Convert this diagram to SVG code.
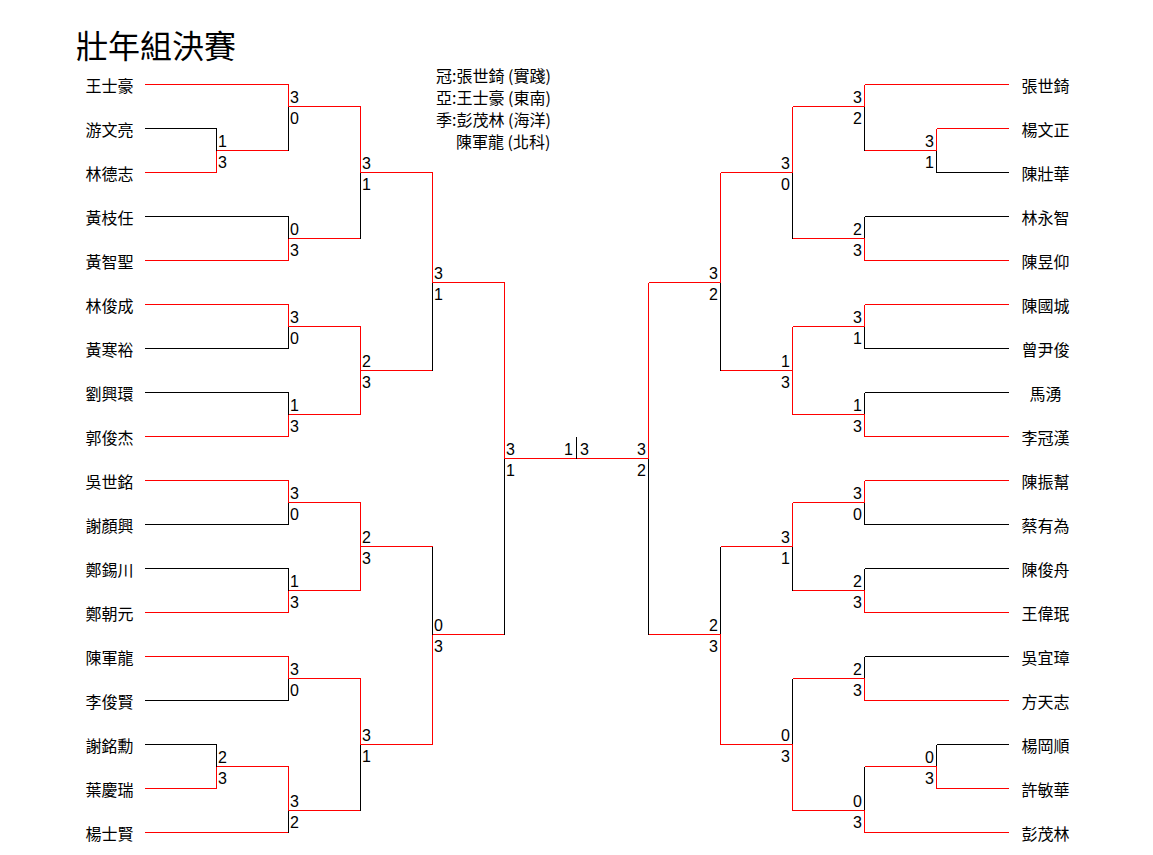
<svg xmlns="http://www.w3.org/2000/svg" width="1153" height="855" viewBox="0 0 1153 855">
<style>
.r{stroke:#f00;stroke-width:1;fill:none}
.k{stroke:#000;stroke-width:1;fill:none}
.nm{font-family:"Noto Sans CJK TC","Noto Sans CJK SC",sans-serif;font-size:16px;fill:#000;text-anchor:middle}
.lg{font-family:"Noto Sans CJK TC","Noto Sans CJK SC",sans-serif;font-size:16px;fill:#000}
.ti{font-family:"Noto Sans CJK TC","Noto Sans CJK SC",sans-serif;font-size:32px;fill:#000}
.s{font-family:"Liberation Sans",Arial,sans-serif;font-size:16px;fill:#000}
.e{text-anchor:end}
</style>
<rect width="1153" height="855" fill="#fff"/>
<g id="title"><text class="ti" x="76" y="58">壯年組決賽</text></g>
<g id="legend">
<text class="lg" x="436" y="82">冠:張世錡 (實踐)</text>
<text class="lg" x="436" y="104">亞:王士豪 (東南)</text>
<text class="lg" x="436" y="126">季:彭茂林 (海洋)</text>
<text class="lg" x="456" y="148">陳軍龍 (北科)</text>
</g>
<g id="connectors" transform="translate(.5 .5)" shape-rendering="crispEdges">
<path class="r" d="M144 84H288M144 172H216M144 260H288M144 304H288M144 436H288M144 480H288M144 612H288M144 656H288M144 788H216M144 832H288"/>
<path class="k" d="M144 128H216M144 216H288M144 348H288M144 392H288M144 524H288M144 568H288M144 700H288M144 744H216"/>
<path class="k" d="M216 128V150"/><path class="r" d="M216 150V172M216 150H288"/>
<path class="r" d="M288 84V106M288 106H360"/><path class="k" d="M288 106V150"/>
<path class="k" d="M288 216V238"/><path class="r" d="M288 238V260M288 238H360"/>
<path class="r" d="M360 106V172M360 172H432"/><path class="k" d="M360 172V238"/>
<path class="r" d="M288 304V326M288 326H360"/><path class="k" d="M288 326V348"/>
<path class="k" d="M288 392V414"/><path class="r" d="M288 414V436M288 414H360"/>
<path class="r" d="M360 326V370"/><path class="r" d="M360 370V414M360 370H432"/>
<path class="r" d="M432 172V282M432 282H504"/><path class="k" d="M432 282V370"/>
<path class="r" d="M288 480V502M288 502H360"/><path class="k" d="M288 502V524"/>
<path class="k" d="M288 568V590"/><path class="r" d="M288 590V612M288 590H360"/>
<path class="r" d="M360 502V546"/><path class="r" d="M360 546V590M360 546H432"/>
<path class="r" d="M288 656V678M288 678H360"/><path class="k" d="M288 678V700"/>
<path class="k" d="M216 744V766"/><path class="r" d="M216 766V788M216 766H288"/>
<path class="r" d="M288 766V810M288 810H360"/><path class="k" d="M288 810V832"/>
<path class="r" d="M360 678V744M360 744H432"/><path class="k" d="M360 744V810"/>
<path class="k" d="M432 546V634"/><path class="r" d="M432 634V744M432 634H504"/>
<path class="r" d="M504 282V458M504 458H576"/><path class="k" d="M504 458V634"/>
<path class="k" d="M576 436V458"/>
<path class="r" d="M864 84H1008M936 128H1008M864 260H1008M864 304H1008M864 436H1008M864 480H1008M864 612H1008M864 700H1008M936 788H1008M864 832H1008"/>
<path class="k" d="M936 172H1008M864 216H1008M864 348H1008M864 392H1008M864 524H1008M864 568H1008M864 656H1008M936 744H1008"/>
<path class="r" d="M936 128V150M864 150H936"/><path class="k" d="M936 150V172"/>
<path class="r" d="M864 84V106M792 106H864"/><path class="k" d="M864 106V150"/>
<path class="k" d="M864 216V238"/><path class="r" d="M864 238V260M792 238H864"/>
<path class="r" d="M792 106V172M720 172H792"/><path class="k" d="M792 172V238"/>
<path class="r" d="M864 304V326M792 326H864"/><path class="k" d="M864 326V348"/>
<path class="k" d="M864 392V414"/><path class="r" d="M864 414V436M792 414H864"/>
<path class="r" d="M792 326V370"/><path class="r" d="M792 370V414M720 370H792"/>
<path class="r" d="M720 172V282M648 282H720"/><path class="k" d="M720 282V370"/>
<path class="r" d="M864 480V502M792 502H864"/><path class="k" d="M864 502V524"/>
<path class="k" d="M864 568V590"/><path class="r" d="M864 590V612M792 590H864"/>
<path class="r" d="M792 502V546M720 546H792"/><path class="k" d="M792 546V590"/>
<path class="k" d="M864 656V678"/><path class="r" d="M864 678V700M792 678H864"/>
<path class="k" d="M936 744V766"/><path class="r" d="M936 766V788M864 766H936"/>
<path class="k" d="M864 766V810"/><path class="r" d="M864 810V832M792 810H864"/>
<path class="k" d="M792 678V744"/><path class="r" d="M792 744V810M720 744H792"/>
<path class="k" d="M720 546V634"/><path class="r" d="M720 634V744M648 634H720"/>
<path class="r" d="M648 282V458M576 458H648"/><path class="k" d="M648 458V634"/>
</g>
<g id="scores">
<text class="s" x="218" y="147">1</text><text class="s" x="218" y="168">3</text>
<text class="s" x="290" y="103">3</text><text class="s" x="290" y="124">0</text>
<text class="s" x="290" y="235">0</text><text class="s" x="290" y="256">3</text>
<text class="s" x="362" y="169">3</text><text class="s" x="362" y="190">1</text>
<text class="s" x="290" y="323">3</text><text class="s" x="290" y="344">0</text>
<text class="s" x="290" y="411">1</text><text class="s" x="290" y="432">3</text>
<text class="s" x="362" y="367">2</text><text class="s" x="362" y="388">3</text>
<text class="s" x="434" y="279">3</text><text class="s" x="434" y="300">1</text>
<text class="s" x="290" y="499">3</text><text class="s" x="290" y="520">0</text>
<text class="s" x="290" y="587">1</text><text class="s" x="290" y="608">3</text>
<text class="s" x="362" y="543">2</text><text class="s" x="362" y="564">3</text>
<text class="s" x="290" y="675">3</text><text class="s" x="290" y="696">0</text>
<text class="s" x="218" y="763">2</text><text class="s" x="218" y="784">3</text>
<text class="s" x="290" y="807">3</text><text class="s" x="290" y="828">2</text>
<text class="s" x="362" y="741">3</text><text class="s" x="362" y="762">1</text>
<text class="s" x="434" y="631">0</text><text class="s" x="434" y="652">3</text>
<text class="s" x="506" y="455">3</text><text class="s" x="506" y="476">1</text>
<text class="s e" x="573" y="455">1</text><text class="s" x="580" y="455">3</text>
<text class="s e" x="934" y="147">3</text><text class="s e" x="934" y="168">1</text>
<text class="s e" x="862" y="103">3</text><text class="s e" x="862" y="124">2</text>
<text class="s e" x="862" y="235">2</text><text class="s e" x="862" y="256">3</text>
<text class="s e" x="790" y="169">3</text><text class="s e" x="790" y="190">0</text>
<text class="s e" x="862" y="323">3</text><text class="s e" x="862" y="344">1</text>
<text class="s e" x="862" y="411">1</text><text class="s e" x="862" y="432">3</text>
<text class="s e" x="790" y="367">1</text><text class="s e" x="790" y="388">3</text>
<text class="s e" x="718" y="279">3</text><text class="s e" x="718" y="300">2</text>
<text class="s e" x="862" y="499">3</text><text class="s e" x="862" y="520">0</text>
<text class="s e" x="862" y="587">2</text><text class="s e" x="862" y="608">3</text>
<text class="s e" x="790" y="543">3</text><text class="s e" x="790" y="564">1</text>
<text class="s e" x="862" y="675">2</text><text class="s e" x="862" y="696">3</text>
<text class="s e" x="934" y="763">0</text><text class="s e" x="934" y="784">3</text>
<text class="s e" x="862" y="807">0</text><text class="s e" x="862" y="828">3</text>
<text class="s e" x="790" y="741">0</text><text class="s e" x="790" y="762">3</text>
<text class="s e" x="718" y="631">2</text><text class="s e" x="718" y="652">3</text>
<text class="s e" x="646" y="455">3</text><text class="s e" x="646" y="476">2</text>
</g>
<g id="p-l01"><text class="nm" x="109.5" y="92">王士豪</text></g>
<g id="p-l02"><text class="nm" x="109.5" y="136">游文亮</text></g>
<g id="p-l03"><text class="nm" x="109.5" y="180">林德志</text></g>
<g id="p-l04"><text class="nm" x="109.5" y="224">黃枝任</text></g>
<g id="p-l05"><text class="nm" x="109.5" y="268">黃智聖</text></g>
<g id="p-l06"><text class="nm" x="109.5" y="312">林俊成</text></g>
<g id="p-l07"><text class="nm" x="109.5" y="356">黃寒裕</text></g>
<g id="p-l08"><text class="nm" x="109.5" y="400">劉興環</text></g>
<g id="p-l09"><text class="nm" x="109.5" y="444">郭俊杰</text></g>
<g id="p-l10"><text class="nm" x="109.5" y="488">吳世銘</text></g>
<g id="p-l11"><text class="nm" x="109.5" y="532">謝顏興</text></g>
<g id="p-l12"><text class="nm" x="109.5" y="576">鄭錫川</text></g>
<g id="p-l13"><text class="nm" x="109.5" y="620">鄭朝元</text></g>
<g id="p-l14"><text class="nm" x="109.5" y="664">陳軍龍</text></g>
<g id="p-l15"><text class="nm" x="109.5" y="708">李俊賢</text></g>
<g id="p-l16"><text class="nm" x="109.5" y="752">謝銘勳</text></g>
<g id="p-l17"><text class="nm" x="109.5" y="796">葉慶瑞</text></g>
<g id="p-l18"><text class="nm" x="109.5" y="840">楊士賢</text></g>
<g id="p-r01"><text class="nm" x="1045.5" y="92">張世錡</text></g>
<g id="p-r02"><text class="nm" x="1045.5" y="136">楊文正</text></g>
<g id="p-r03"><text class="nm" x="1045.5" y="180">陳壯華</text></g>
<g id="p-r04"><text class="nm" x="1045.5" y="224">林永智</text></g>
<g id="p-r05"><text class="nm" x="1045.5" y="268">陳昱仰</text></g>
<g id="p-r06"><text class="nm" x="1045.5" y="312">陳國城</text></g>
<g id="p-r07"><text class="nm" x="1045.5" y="356">曾尹俊</text></g>
<g id="p-r08"><text class="nm" x="1045.5" y="400">馬湧</text></g>
<g id="p-r09"><text class="nm" x="1045.5" y="444">李冠漢</text></g>
<g id="p-r10"><text class="nm" x="1045.5" y="488">陳振幫</text></g>
<g id="p-r11"><text class="nm" x="1045.5" y="532">蔡有為</text></g>
<g id="p-r12"><text class="nm" x="1045.5" y="576">陳俊舟</text></g>
<g id="p-r13"><text class="nm" x="1045.5" y="620">王偉珉</text></g>
<g id="p-r14"><text class="nm" x="1045.5" y="664">吳宜璋</text></g>
<g id="p-r15"><text class="nm" x="1045.5" y="708">方天志</text></g>
<g id="p-r16"><text class="nm" x="1045.5" y="752">楊岡順</text></g>
<g id="p-r17"><text class="nm" x="1045.5" y="796">許敏華</text></g>
<g id="p-r18"><text class="nm" x="1045.5" y="840">彭茂林</text></g>
</svg>
